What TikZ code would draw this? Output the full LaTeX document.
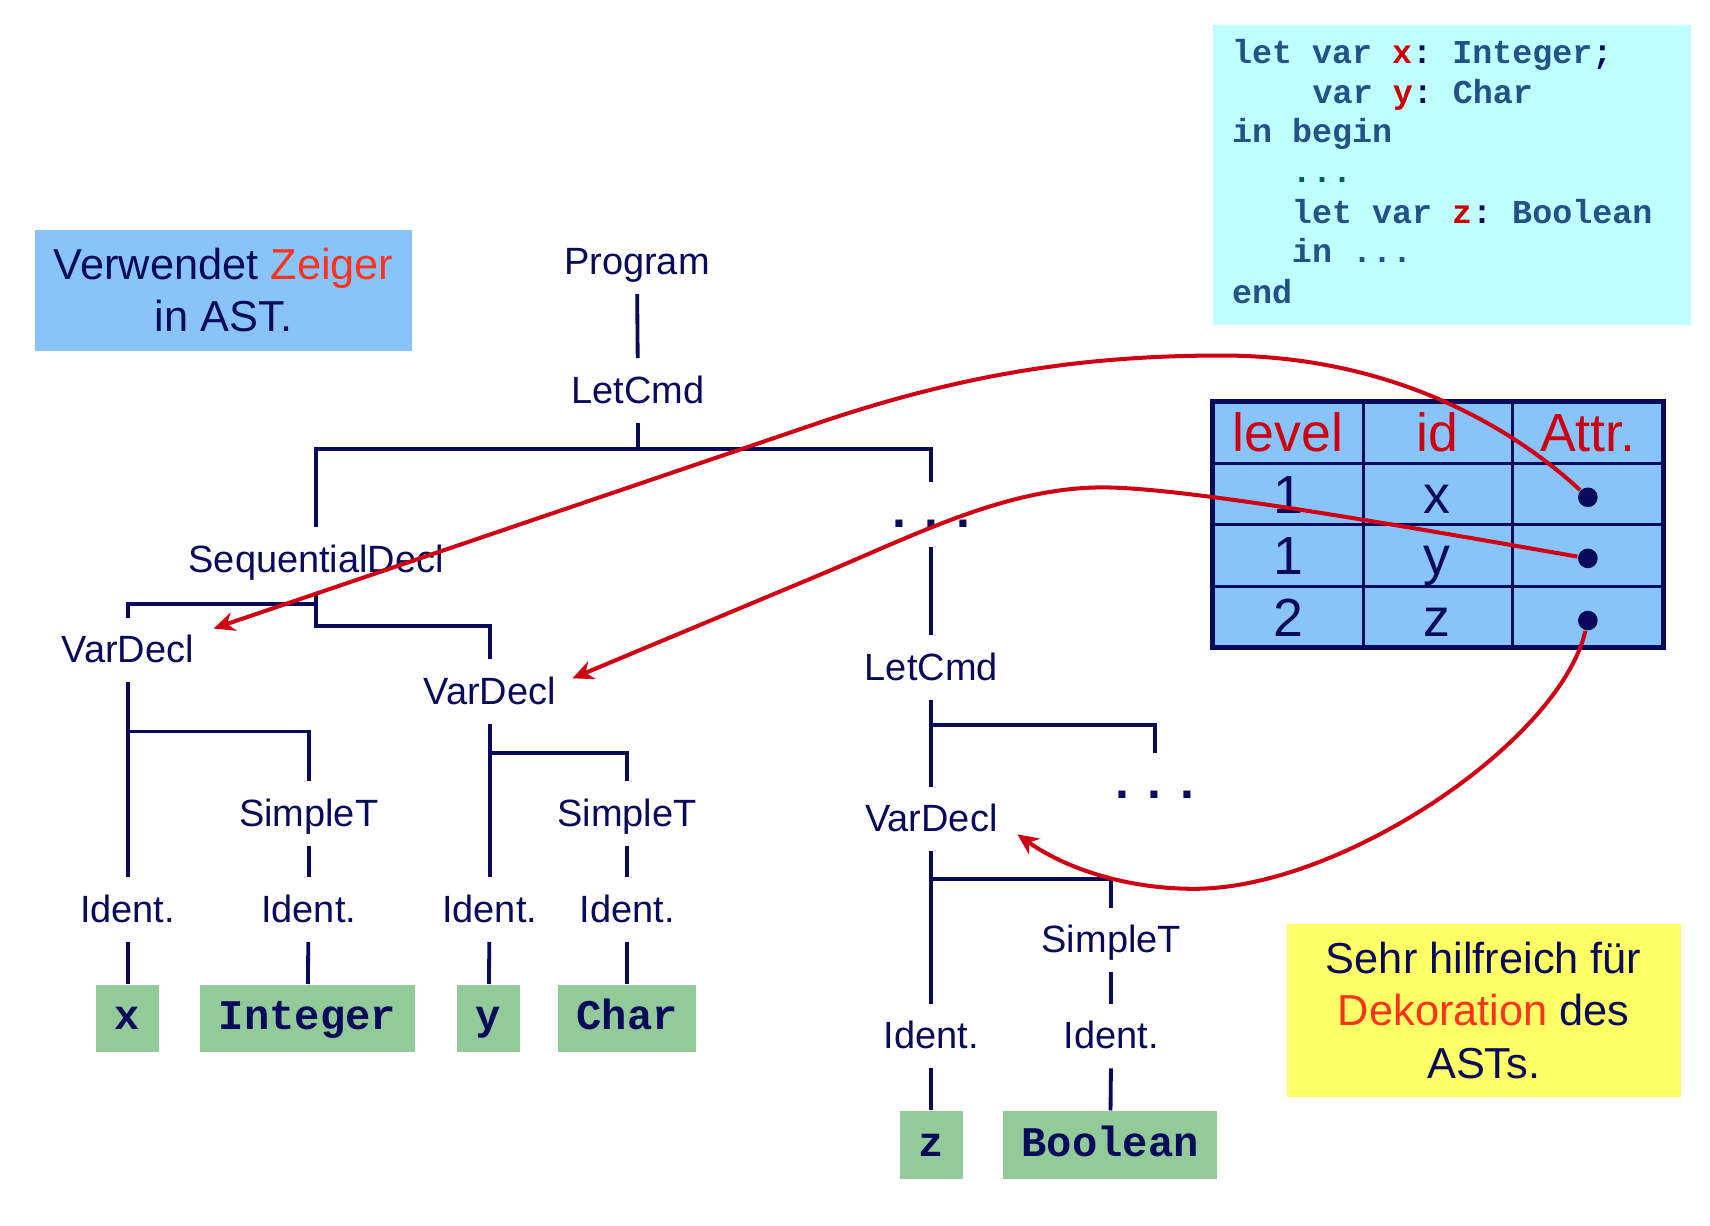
\documentclass[tikz,border=0pt]{standalone}
\usepackage{fontspec}
\setmainfont{Liberation Sans}
\setmonofont{Liberation Mono}
\usetikzlibrary{arrows.meta}
\definecolor{navy}{RGB}{10,10,90}
\definecolor{ptrred}{RGB}{208,0,20}
\definecolor{notered}{RGB}{255,50,30}
\definecolor{hdrred}{RGB}{204,0,17}
\definecolor{codered}{RGB}{204,0,0}
\definecolor{codeblue}{RGB}{36,82,136}
\definecolor{codeteal}{RGB}{0,95,80}
\definecolor{codecyan}{RGB}{192,255,255}
\definecolor{noteblue}{RGB}{136,196,250}
\definecolor{noteyellow}{RGB}{255,255,102}
\definecolor{leafgreen}{RGB}{146,202,154}

\begin{document}
\begin{tikzpicture}[x=0.01cm, y=-0.01cm,
    main/.style = {text=navy, font=\fontsize{9.9}{12}\selectfont, text height=8.1pt, text depth=1.4pt, inner xsep=3pt, inner ysep=3.5pt},
    more/.style = {main, font=\fontsize{13}{15}\selectfont\bfseries},
    leaf/.style = {fill=leafgreen, text=navy, font=\fontsize{11}{13}\selectfont\ttfamily\bfseries, text height=7.2pt, text depth=1.3pt, inner xsep=0.17cm, minimum width=0.55cm, minimum height=0.62cm},
    branch/.style = {draw=navy, line width=1pt},
    pointer/.style = {draw=ptrred, line width=1.05pt, -{Stealth[length=5.5pt,width=5pt]}},
    notebox/.style = {text=navy, align=center, font=\fontsize{11.3}{13.6}\selectfont},
    srcline/.style = {anchor=base west, inner sep=0, text=codeblue, font=\fontsize{8.7}{10.4}\selectfont\ttfamily\bfseries},
    tabcell/.style = {anchor=base, inner sep=0, text=navy, font=\fontsize{14}{16}\selectfont},
    ref/.style = {circle, fill=navy, inner sep=0, minimum size=0.18cm}]
	\useasboundingbox (0,0) rectangle (1568,1124);

	% notes
	\node[notebox, fill=noteblue, minimum width=3.46cm, minimum height=1.11cm] (n1) at (205,266) {Verwendet \textcolor{notered}{Zeiger}\\in AST.};
	\node[notebox, fill=noteyellow, minimum width=3.61cm, minimum height=1.59cm] (n2) at (1360.5,926.5) {Sehr hilfreich für\\\textcolor{notered}{Dekoration} des\\ASTs.};

	% source program
	\node[fill=codecyan, minimum width=4.38cm, minimum height=2.75cm] (src) at (1331,160.5) {};
	\node[srcline] at (1129,58) {let var \textcolor{codered}{x}\textcolor{navy}{:} Integer\textcolor{navy}{;}};
	\node[srcline] at (1203,95) {var \textcolor{codered}{y}\textcolor{navy}{:} Char};
	\node[srcline] at (1129,131) {in begin};
	\node[srcline, text=codeteal] at (1184,167) {...};
	\node[srcline] at (1184,205) {let var \textcolor{codered}{z}\textcolor{navy}{:} Boolean};
	\node[srcline] at (1184,241) {in ...};
	\node[srcline] at (1129,278) {end};

	% table
	\filldraw[fill=noteblue, draw=navy, line width=1.3pt] (1112,368) rectangle (1525,594);
	\draw[navy, line width=0.7pt] (1250,368) -- (1250,594) (1387,368) -- (1387,594)
		(1112,425) -- (1525,425) (1112,481) -- (1525,481) (1112,538) -- (1525,538);
	\node[tabcell, text=hdrred] at (1181,414) {level};
	\node[tabcell, text=hdrred] at (1318,414) {id};
	\node[tabcell, text=hdrred] at (1456,414) {Attr.};
	\node[tabcell] at (1181,471) {1};
	\node[tabcell] at (1318,471) {x};
	\node[tabcell] at (1181,527) {1};
	\node[tabcell] at (1318,527) {y};
	\node[tabcell] at (1181,584) {2};
	\node[tabcell] at (1318,584) {z};
	\node[ref] (d1) at (1456,456) {};
	\node[ref] (d2) at (1456,512) {};
	\node[ref] (d3) at (1456,569) {};

	% tree
	\node[main] (1) at (584,240) {Program};
	\node[main] (2) at (585,358) {LetCmd};
	\node[more] (3) at (854,472) {. . .};
	\node[main] (4) at (290,513) {SequentialDecl};
	\node[main] (5) at (117,596) {VarDecl};
	\node[main] (6) at (449,634) {VarDecl};
	\node[main] (7) at (854,612) {LetCmd};
	\node[main] (8) at (854,751) {VarDecl};
	\node[more] (9) at (1059,720) {. . .};
	\node[main] (10) at (283,746) {SimpleT};
	\node[main] (11) at (575,746) {SimpleT};
	\node[main] (12) at (1019,862) {SimpleT};
	\node[main] (13) at (117,834) {Ident.};
	\node[main] (14) at (283,834) {Ident.};
	\node[main] (15) at (449,834) {Ident.};
	\node[main] (16) at (575,834) {Ident.};
	\node[main] (17) at (854,950) {Ident.};
	\node[main] (18) at (1019,950) {Ident.};
	\node[leaf] (19) at (117,934) {x};
	\node[leaf] (20) at (282,934) {Integer};
	\node[leaf] (21) at (448,934) {y};
	\node[leaf] (22) at (575,934) {Char};
	\node[leaf] (23) at (854,1050) {z};
	\node[leaf] (24) at (1018,1050) {Boolean};

	\draw[branch] (1) -- (2);
	\draw[branch] (2.south) -- ++(0,24) coordinate (c1);
	\draw[branch] (4.north) |- (c1) -| (3.north);
	\draw[branch] (3) -- (7);
	\draw[branch] (4.south) -- ++(0,11) coordinate (c2) -- ++(0,20) -| (6.north);
	\draw[branch] (c2) -| (5.north);
	\draw[branch] (5) -- (13);
	\draw[branch] (5.south) ++(0,45) -| (10.north);
	\draw[branch] (10) -- (14);
	\draw[branch] (6) -- (15);
	\draw[branch] (6.south) ++(0,27) -| (11.north);
	\draw[branch] (11) -- (16);
	\draw[branch] (7) -- (8);
	\draw[branch] (7.south) ++(0,23) -| (9.north);
	\draw[branch] (8) -- (17);
	\draw[branch] (8.south) ++(0,25) -| (12.north);
	\draw[branch] (12) -- (18);
	\draw[branch] (13) -- (19);
	\draw[branch] (14) -- (20);
	\draw[branch] (15) -- (21);
	\draw[branch] (16) -- (22);
	\draw[branch] (17) -- (23);
	\draw[branch] (18) -- (24);

	% pointers into the AST
	\draw[pointer] (d1) .. controls (1390,395) and (1280,326) .. (1120,326)
		.. controls (990,326) and (880,344) .. (750,388) -- ([shift={(7,10)}]5.north east);
	\draw[pointer] (d2) .. controls (1300,485) and (1080,445) .. (1005,447)
		.. controls (920,449) and (840,490) .. (752,527) -- ([shift={(4,-12)}]6.east);
	\draw[pointer] (d3) .. controls (1430,680) and (1230,815) .. (1095,815)
		.. controls (1030,815) and (975,795) .. ([shift={(7,14)}]8.east);
\end{tikzpicture}
\end{document}
